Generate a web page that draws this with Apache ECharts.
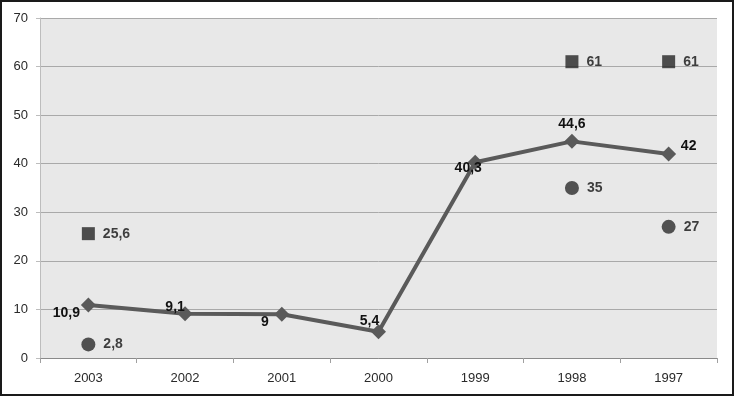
<!DOCTYPE html>
<html>
<head>
<meta charset="utf-8">
<script src="https://cdn.jsdelivr.net/npm/echarts@6/dist/echarts.min.js"></script>
<style>
  body { margin: 0; background: #fff; }
  #main { width: 734px; height: 396px; }
  #frame { position: absolute; left: 0; top: 0; width: 734px; height: 396px; box-sizing: border-box; border: 2px solid #1a1a1a; pointer-events: none; }
</style>
</head>
<body>
<div id="main"></div>
<div id="frame"></div>
<script>
var years = ['2003', '2002', '2001', '2000', '1999', '1998', '1997'];
var lineValues = [10.9, 9.1, 9, 5.4, 40.3, 44.6, 42];
var squareValues = [25.6, null, null, null, null, 61, 61];
var circleValues = [2.8, null, null, null, null, 35, 27];
var yTicks = { min: 0, max: 70, step: 10 };

// где стоит подпись у каждой точки линии
var lineLabelOffsets = [[-22, 8], [-10, -7], [-17, 8], [-9, -11], [-7, 6], [0, -17], [20, -8]];

function comma(v) {
  return String(v).replace('.', ',');
}

var chart = echarts.init(document.getElementById('main'));

var lineData = lineValues.map(function (v, i) {
  return {
    value: v,
    label: { offset: lineLabelOffsets[i] }
  };
});

var labelFont = {
  fontFamily: 'Liberation Sans',
  fontSize: 14,
  fontWeight: 'bold',
  color: '#111'
};

option = {
  animation: false,
  backgroundColor: '#fff',
  grid: {
    left: 40, right: 17, top: 18, bottom: 38,
    show: true, backgroundColor: '#e8e8e8', borderWidth: 0
  },
  xAxis: {
    type: 'category',
    data: years,
    boundaryGap: true,
    axisLine: { lineStyle: { color: '#8a8a8a', width: 1 } },
    axisTick: { show: true, length: 5, lineStyle: { color: '#a0a0a0' } },
    axisLabel: { fontFamily: 'Liberation Sans', fontSize: 13, color: '#2a2a2a', margin: 14 }
  },
  yAxis: {
    type: 'value',
    min: yTicks.min, max: yTicks.max, interval: yTicks.step,
    axisLine: { show: true, lineStyle: { color: '#bdbdbd' } },
    axisTick: { show: true, length: 4, lineStyle: { color: '#bdbdbd' } },
    splitLine: { lineStyle: { color: '#a9a9a9', width: 1 } },
    axisLabel: { fontFamily: 'Liberation Sans', fontSize: 13, color: '#2a2a2a', margin: 12 }
  },
  series: [
    {
      type: 'line',
      data: lineData,
      symbol: 'diamond',
      symbolSize: 15,
      lineStyle: { color: '#5a5a5a', width: 4 },
      itemStyle: { color: '#5a5a5a' },
      label: Object.assign({
        show: true,
        position: 'inside',
        align: 'center',
        verticalAlign: 'middle',
        formatter: function (p) { return comma(p.value); }
      }, labelFont),
      z: 3
    },
    {
      type: 'scatter',
      data: squareValues,
      symbol: 'rect',
      symbolSize: 13,
      itemStyle: { color: '#242424' },
      label: Object.assign({
        show: true,
        position: 'right',
        distance: 8,
        formatter: function (p) { return comma(p.value); }
      }, labelFont)
    },
    {
      type: 'scatter',
      data: circleValues,
      symbol: 'circle',
      symbolSize: 14,
      itemStyle: { color: '#2a2a2a' },
      label: Object.assign({
        show: true,
        position: 'right',
        distance: 8,
        formatter: function (p) { return comma(p.value); }
      }, labelFont)
    }
  ]
};

chart.setOption(option);
</script>
</body>
</html>
